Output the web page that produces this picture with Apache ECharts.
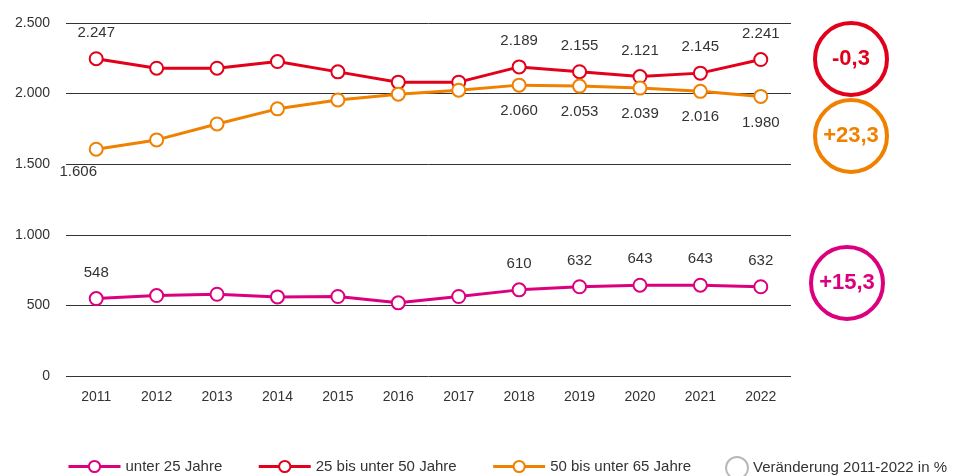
<!DOCTYPE html>
<html>
<head>
<meta charset="utf-8">
<script src="https://cdn.jsdelivr.net/npm/echarts@6/dist/echarts.min.js"></script>
<style>
  html, body { margin: 0; padding: 0; background: #fff; }
  #chart { width: 954px; height: 476px; }
</style>
</head>
<body>
<div id="chart"></div>
<script>
// Jahre
var years = ["2011", "2012", "2013", "2014", "2015", "2016", "2017", "2018", "2019", "2020", "2021", "2022"];
// Werte je Altersgruppe
var unter25 = [548, 570, 579, 560, 563, 518, 563, 610, 632, 643, 643, 632];
var von25bis50 = [2247, 2180, 2180, 2227, 2154, 2081, 2081, 2189, 2155, 2121, 2145, 2241];
var von50bis65 = [1606, 1672, 1785, 1892, 1955, 1996, 2024, 2060, 2053, 2039, 2016, 1980];
// beschriftete Jahre
var labelYears = ["2011", "2018", "2019", "2020", "2021", "2022"];
// Veränderung 2011-2022 in %
var changes = ["+15,3", "-0,3", "+23,3"];
var yTicks = [0, 500, 1000, 1500, 2000, 2500];

var names = ["unter 25 Jahre", "25 bis unter 50 Jahre", "50 bis unter 65 Jahre"];
var colors = ["#dc007f", "#e2001a", "#f08000"];
var changeName = "Veränderung 2011-2022 in %";
var txt = "#333";
var font = "Liberation Sans, Arial, sans-serif";

function fmt(v) {
  return String(v).replace(/\B(?=(\d{3})+(?!\d))/g, ".");
}

function build(values, pos) {
  return values.map(function (v, i) {
    var item = { value: v };
    if (labelYears.indexOf(years[i]) >= 0) {
      item.label = { show: true, position: pos };
      if (pos === "bottom" && i === 0) item.label.offset = [-18, -3];
    } else {
      item.label = { show: false };
    }
    return item;
  });
}

function lineSeries(name, values, color, pos) {
  return {
    name: name,
    type: "line",
    data: build(values, pos),
    symbol: "emptyCircle",
    symbolSize: 13,
    color: color,
    lineStyle: { width: 3, color: color },
    itemStyle: { color: color, borderWidth: 2 },
    label: {
      distance: 11,
      color: txt,
      fontSize: 15,
      fontFamily: font,
      formatter: function (p) { return fmt(p.value); }
    },
    animation: false
  };
}

function badge(cx, cy, text, color) {
  return {
    type: "group",
    children: [
      {
        type: "circle",
        shape: { cx: cx, cy: cy, r: 36 },
        style: { fill: "#fff", stroke: color, lineWidth: 4 }
      },
      {
        type: "text",
        x: cx, y: cy,
        style: {
          text: text, fill: color, font: "bold 22px " + font,
          align: "center", verticalAlign: "middle"
        }
      }
    ]
  };
}

var chart = echarts.init(document.getElementById("chart"));
chart.setOption({
  backgroundColor: "#fff",
  grid: { left: 66, right: 163, top: 23, bottom: 100 },
  legend: [
    {
      data: names,
      left: 62,
      top: 454,
      itemWidth: 52,
      itemHeight: 14,
      itemGap: 35,
      lineStyle: { width: 3 },
      textStyle: { color: txt, fontSize: 15, fontFamily: font }
    },
    {
      data: [changeName],
      left: 720,
      top: 451,
      itemWidth: 22,
      itemHeight: 22,
      textStyle: { color: txt, fontSize: 15, fontFamily: font }
    }
  ],
  xAxis: {
    type: "category",
    data: years,
    boundaryGap: true,
    axisLine: { show: false },
    axisTick: { show: false },
    axisLabel: { color: txt, fontSize: 14, fontFamily: font, margin: 14 }
  },
  yAxis: {
    type: "value",
    min: yTicks[0],
    max: yTicks[yTicks.length - 1],
    interval: 500,
    axisLine: { show: false },
    axisTick: { show: false },
    splitLine: { lineStyle: { color: "#333", width: 1 } },
    axisLabel: {
      color: txt, fontSize: 14, fontFamily: font, margin: 16,
      formatter: function (v) { return fmt(v); }
    }
  },
  series: [
    lineSeries(names[0], unter25, colors[0], "top"),
    lineSeries(names[1], von25bis50, colors[1], "top"),
    lineSeries(names[2], von50bis65, colors[2], "bottom"),
    {
      name: changeName,
      type: "scatter",
      data: [],
      symbol: "emptyCircle",
      itemStyle: { color: "#a6a6a6", borderWidth: 1.5 }
    }
  ],
  graphic: [
    badge(851, 59, changes[1], colors[1]),
    badge(851, 136, changes[2], colors[2]),
    badge(847, 283, changes[0], colors[0])
  ]
});
</script>
</body>
</html>
